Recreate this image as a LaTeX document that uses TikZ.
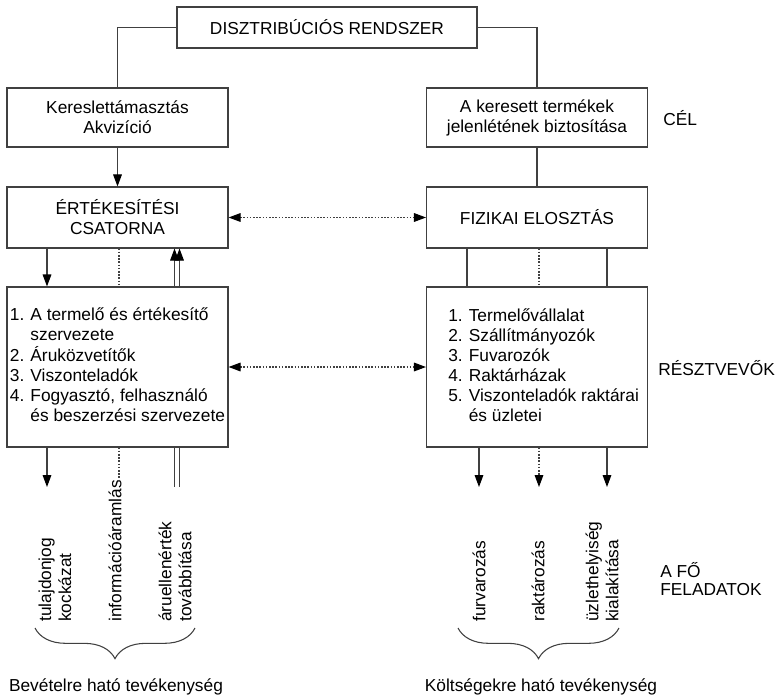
\documentclass[tikz,border=0pt]{standalone}
\usepackage{fontspec}
\setmainfont{Liberation Sans}
\usetikzlibrary{arrows.meta,decorations.pathreplacing}

\begin{document}
\begin{tikzpicture}[%%
  x=0.75pt,y=-0.75pt,%%
  lineStyle/.style={draw=black!75,line width=0.8pt},%%
  arrowStyle/.style={-{Triangle[length=9pt,width=6.5pt,color=black]}},%%
  dotStyle/.style={lineStyle,dash pattern=on 1.2pt off 1.2pt},%%
  dotArrowStyle/.style={dotStyle,{Triangle[length=9pt,width=6.5pt,color=black]}-{Triangle[length=9pt,width=6.5pt,color=black]}},%%
  boxStyle/.style={lineStyle,align=center,inner sep=2pt,minimum width=165.75pt,font=\fontsize{13}{15}\selectfont},%%
  labelStyle/.style={font=\fontsize{13}{15}\selectfont,align=left,inner sep=0pt},%%
  taskStyle/.style={labelStyle,rotate=90,anchor=west},%%
  curlyBrace/.style={lineStyle,decorate,decoration={brace,mirror,amplitude=23pt}}%%
]
%%
\useasboundingbox (0,0) rectangle (776,699);
%%
%% Columns of the connectors.
\coordinate (colA) at (47,0);
\coordinate (colB) at (119,0);
\coordinate (colC) at (174.5,0);
\coordinate (colD) at (179.5,0);
\coordinate (colE) at (467,0);
\coordinate (colF) at (539,0);
\coordinate (colG) at (607,0);
\coordinate (colH) at (479,0);
\coordinate (rowEnd) at (0,487);
%%
%% The boxes.
\node[boxStyle,minimum width=225pt,minimum height=30.75pt] (system) at (327,27.5) {DISZTRIBÚCIÓS RENDSZER};
\node[boxStyle,minimum height=44.25pt] (lb1) at (117.5,117.5) {Kereslettámasztás\\Akvizíció};
\node[boxStyle,minimum height=44.25pt] (rb1) at (537,117.5) {A keresett termékek\\jelenlétének biztosítása};
\node[boxStyle,minimum height=45.75pt] (lb2) at (117.5,217.5) {ÉRTÉKESÍTÉSI\\CSATORNA};
\node[boxStyle,minimum height=45.75pt] (rb2) at (537,217.5) {FIZIKAI ELOSZTÁS};
\node[boxStyle,minimum height=120pt] (lb3) at (117.5,367) {%
  \begin{tabular}{@{}l@{\hspace{4.5pt}}l@{}}
  1. & A termelő és értékesítő\\
     & szervezete\\
  2. & Áruközvetítők\\
  3. & Viszonteladók\\
  4. & Fogyasztó, felhasználó\\
     & és beszerzési szervezete
  \end{tabular}};
\node[boxStyle,minimum height=120pt] (rb3) at (537,367) {\hspace{10pt}%
  \begin{tabular}{@{}l@{\hspace{4.5pt}}l@{}}
  1. & Termelővállalat\\
  2. & Szállítmányozók\\
  3. & Fuvarozók\\
  4. & Raktárházak\\
  5. & Viszonteladók raktárai\\
     & és üzletei
  \end{tabular}};
%%
%% Labels on the right.
\node[labelStyle,anchor=west] (goal) at (663,118) {CÉL};
\node[labelStyle,anchor=west] (actors) at (658,368) {RÉSZTVEVŐK};
\node[labelStyle,anchor=west,font=\fontsize{13}{13.5}\selectfont] (tasks) at (660,579) {A FŐ\\FELADATOK};
%%
%% The tasks, written upwards.
\node[taskStyle] (ownership) at (55,622) {tulajdonjog\\kockázat};
\node[taskStyle] (info) at (115,622) {információáramlás};
\node[taskStyle] (payment) at (175,622) {áruellenérték\\továbbítása};
\node[taskStyle] (transport) at (479,622) {furvarozás};
\node[taskStyle] (storage) at (538,622) {raktározás};
\node[taskStyle] (shop) at (602,622) {üzlethelyiség\\kialakítása};
%%
%% Connectors at the top.
\draw[lineStyle] (system.west) -| (lb1.north);
\draw[lineStyle] (system.east) -| (rb1.north);
\draw[lineStyle,arrowStyle] (lb1) -- (lb2);
\draw[lineStyle] (rb1) -- (rb2);
\draw[dotArrowStyle] (lb2) -- (rb2);
\draw[dotArrowStyle] (lb3) -- (rb3);
%% Between channel and participants.
\draw[lineStyle,arrowStyle] (lb2.south -| colA) -- (lb3.north -| colA);
\draw[dotStyle] (lb2.south -| colB) -- (lb3.north -| colB);
\draw[lineStyle,arrowStyle] (lb3.north -| colC) -- (lb2.south -| colC);
\draw[lineStyle,arrowStyle] (lb3.north -| colD) -- (lb2.south -| colD);
\foreach \col in {colE,colG}
  \draw[lineStyle] (rb2.south -| \col) -- (rb3.north -| \col);
\draw[dotStyle] (rb2.south -| colF) -- (rb3.north -| colF);
%% Below the participants.
\draw[lineStyle,arrowStyle] (lb3.south -| colA) -- (rowEnd -| colA);
\draw[dotStyle] (lb3.south -| colB) -- (info.east -| colB);
\draw[lineStyle] (lb3.south -| colC) -- (rowEnd -| colC);
\draw[lineStyle] (lb3.south -| colD) -- (rowEnd -| colD);
\draw[lineStyle,arrowStyle] (rb3.south -| colH) -- (rowEnd -| colH);
\draw[dotStyle,arrowStyle] (rb3.south -| colF) -- (rowEnd -| colF);
\draw[lineStyle,arrowStyle] (rb3.south -| colG) -- (rowEnd -| colG);
%%
%% Braces and their texts.
\draw[curlyBrace] (35,628) -- (195,628);
\draw[curlyBrace] (458,628) -- (619,628);
\node[labelStyle] (revenue) at (116,687) {Bevételre ható tevékenység};
\node[labelStyle] (cost) at (541,687) {Költségekre ható tevékenység};
\end{tikzpicture}
\end{document}
